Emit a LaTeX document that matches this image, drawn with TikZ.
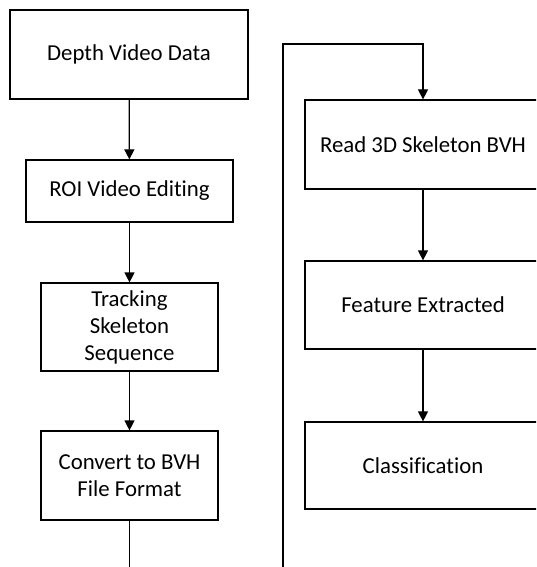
\documentclass[tikz,border=0pt]{standalone}
\usepackage{fontspec}
\setmainfont{Carlito}[Ligatures=NoCommon]
\usepackage{tikz}
\usetikzlibrary{arrows.meta,positioning}

\tikzset{
	stepbox/.style={draw=black,line width=1.2pt,align=center,inner sep=0pt,
		font=\fontsize{22.8}{27}\selectfont},
	flow/.style={line width=1.2pt,-{Triangle[length=10pt,width=10pt]}}
}

\begin{document}
\begin{tikzpicture}[x=1pt,y=-1pt]
		\clip (0,0) rectangle (536,567);
		\fill[white] (0,0) rectangle (536,567);
		% left column
		\node[stepbox,minimum width=238pt,minimum height=89pt] (depth) at (129,54.5) {Depth Video Data};
		\node[stepbox,minimum width=207pt,minimum height=62pt] (roi) at (129.5,191) {ROI Video Editing};
		\node[stepbox,minimum width=177pt,minimum height=88pt] (track) at (129.5,327) {Tracking\\Skeleton\\Sequence};
		\node[stepbox,minimum width=177pt,minimum height=89pt] (bvh) at (129.5,475.5) {Convert to BVH\\File Format};
		% right column
		\node[stepbox,minimum width=236pt,minimum height=89pt] (read) at (423,144.5) {Read 3D Skeleton BVH};
		\node[stepbox,minimum width=236pt,minimum height=88pt] (feat) at (423,305) {Feature Extracted};
		\node[stepbox,minimum width=236pt,minimum height=87pt] (cls) at (423,465.5) {Classification};
		\draw[flow] (depth) -- (roi);
		\draw[flow] (roi) -- (track);
		\draw[flow] (track) -- (bvh);
		\draw[flow] (read) -- (feat);
		\draw[flow] (feat) -- (cls);
		% loop back, runs off the bottom edge
		\coordinate (down) at (129.5,590);
		\coordinate (up) at (283,44);
		\draw[flow] (bvh.south) -- (down) -| (up) -| (read.north);
	\end{tikzpicture}
\end{document}
